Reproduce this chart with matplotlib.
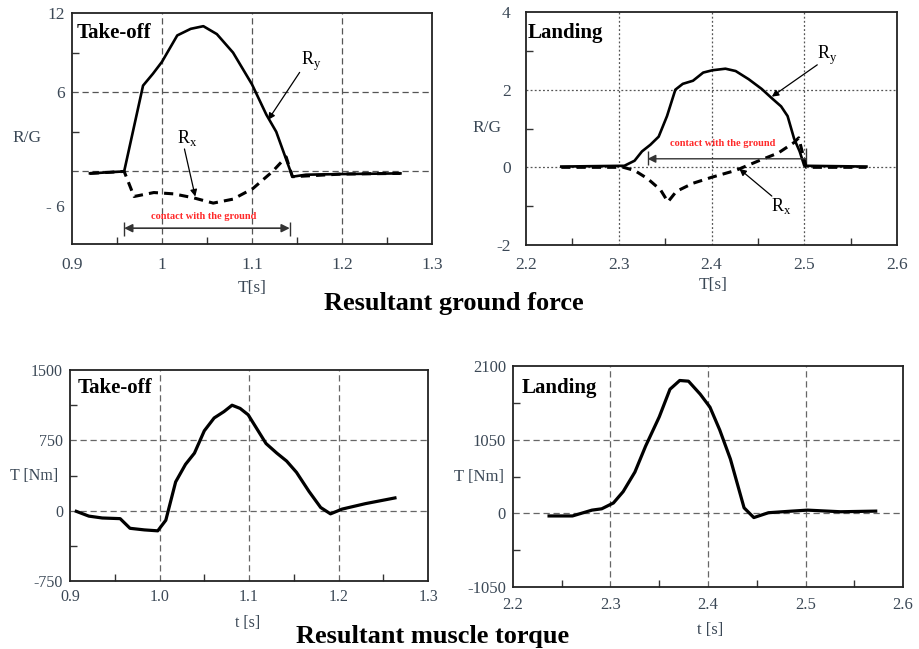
import matplotlib
matplotlib.use("Agg")
import matplotlib.pyplot as plt

plt.rcParams["font.family"] = ["Liberation Serif", "DejaVu Serif"]

# ---- data ------------------------------------------------------------------
# ground reaction force, take-off
t_force_to = [0.92, 0.958, 0.979, 0.99, 1.0, 1.017, 1.032, 1.046, 1.061, 1.079,
              1.1, 1.116, 1.127, 1.145, 1.16, 1.2, 1.265]
ry_to = [-0.15, 0.0, 6.5, 7.4, 8.3, 10.3, 10.8, 11.0, 10.4, 9.0,
         6.6, 4.3, 3.0, -0.4, -0.25, -0.2, -0.15]
t_rx_to = [0.92, 0.958, 0.969, 0.991, 1.013, 1.035, 1.057, 1.079, 1.101, 1.123,
           1.138, 1.145, 1.2, 1.265]
rx_to = [-0.15, 0.0, -1.9, -1.6, -1.7, -2.0, -2.4, -2.1, -1.3, 0.0,
         1.1, -0.4, -0.2, -0.15]

# ground reaction force, landing
t_force_ld = [2.238, 2.306, 2.317, 2.325, 2.334, 2.343, 2.352, 2.361, 2.369, 2.38,
              2.391, 2.401, 2.415, 2.426, 2.44, 2.454, 2.465, 2.475, 2.482, 2.489,
              2.495, 2.5, 2.567]
ry_ld = [0.02, 0.04, 0.17, 0.41, 0.58, 0.79, 1.32, 2.0, 2.15, 2.23,
         2.44, 2.5, 2.54, 2.48, 2.27, 2.02, 1.78, 1.57, 1.32, 0.74,
         0.41, 0.04, 0.02]
t_rx_ld = [2.238, 2.305, 2.317, 2.331, 2.345, 2.353, 2.362, 2.38, 2.401, 2.426,
           2.451, 2.472, 2.489, 2.494, 2.502, 2.567]
rx_ld = [0.0, 0.0, -0.08, -0.29, -0.58, -0.89, -0.62, -0.41, -0.25, -0.08,
         0.17, 0.37, 0.64, 0.76, 0.0, 0.0]

# muscle torque, take-off
t_tq_to = [0.907, 0.921, 0.936, 0.956, 0.967, 0.983, 0.998, 1.007, 1.018, 1.029,
           1.039, 1.05, 1.061, 1.072, 1.081, 1.09, 1.099, 1.119, 1.131, 1.142,
           1.153, 1.167, 1.18, 1.191, 1.204, 1.23, 1.263]
tq_to = [-7, -58, -78, -85, -188, -205, -215, -102, 307, 494,
         614, 852, 989, 1057, 1125, 1091, 1023, 716, 614, 529,
         409, 205, 34, -34, 17, 75, 136]

# muscle torque, landing
t_tq_ld = [2.237, 2.261, 2.281, 2.291, 2.303, 2.313, 2.325, 2.336, 2.35, 2.361,
           2.371, 2.38, 2.392, 2.402, 2.412, 2.423, 2.437, 2.447, 2.462, 2.486,
           2.502, 2.536, 2.572]
tq_ld = [-37, -37, 46, 65, 148, 310, 588, 958, 1375, 1769,
         1894, 1884, 1699, 1514, 1190, 773, 79, -60, 9, 32,
         46, 23, 32]

x_ticks_to = [0.9, 1.0, 1.1, 1.2, 1.3]
x_ticks_ld = [2.2, 2.3, 2.4, 2.5, 2.6]

LABEL_C = "#3b4856"
RED = "#ff2a2a"


def style_axes(ax, xlim, ylim, xt, xl, xminor, yt, yl, yminor, lsize, xpad, ypad):
    ax.set_xlim(*xlim)
    ax.set_ylim(*ylim)
    ax.set_xticks(xt, xl)
    ax.set_yticks(yt, yl)
    ax.set_xticks(xminor, minor=True)
    ax.set_yticks(yminor, minor=True)
    ax.tick_params(which="major", length=0, labelsize=lsize, labelcolor=LABEL_C)
    ax.tick_params(axis="x", which="major", pad=xpad)
    ax.tick_params(axis="y", which="major", pad=ypad)
    ax.tick_params(which="minor", direction="in", length=5, width=1,
                   color="#333333")
    for s in ax.spines.values():
        s.set_color("#222222")
        s.set_linewidth(1.3)


def grid(ax, xs, ys, dashes, color="#555555", lw=0.9):
    for x in xs:
        ax.axvline(x, color=color, lw=lw, dashes=dashes, zorder=1)
    for y in ys:
        ax.axhline(y, color=color, lw=lw, dashes=dashes, zorder=1)


fig = plt.figure(figsize=(9.19, 6.49), dpi=100)
ax1 = fig.add_axes([0.0783, 0.624, 0.3917, 0.356])
ax2 = fig.add_axes([0.5724, 0.6225, 0.4037, 0.359])
ax3 = fig.add_axes([0.0762, 0.1048, 0.3896, 0.325])
ax4 = fig.add_axes([0.5582, 0.0955, 0.4244, 0.3405])

# --- top left: take-off force ---
style_axes(ax1, (0.9, 1.3), (-5.5, 12), x_ticks_to, ["0.9", "1", "1.1", "1.2", "1.3"],
           [0.95, 1.05, 1.15, 1.25], [12, 6, -2.65], ["12", "6", "- 6"],
           [9, 3, -2.65], 12.5, 9, 5)
grid(ax1, [1.0, 1.1, 1.2], [6, 0], (5, 3))
ax1.plot(t_force_to, ry_to, color="k", lw=1.9, zorder=3)
ax1.plot(t_rx_to, rx_to, color="k", lw=2.2, dashes=(3, 2), zorder=3)
ax1.annotate("", xy=(1.142, -4.3), xytext=(0.958, -4.3),
             arrowprops=dict(arrowstyle="<|-|>", color="#333333", lw=1.2,
                             mutation_scale=12, shrinkA=0, shrinkB=0))
ax1.vlines([0.958, 1.142], -4.9, -3.8, color="#333333", lw=1)
ax1.text(1.046, -3.45, "contact with the ground", color=RED, fontsize=7.5,
         fontweight="bold", ha="center", va="center")
ax1.text(1.166, 8.3, r"R$_\mathregular{y}$", fontsize=13, ha="center", va="center")
ax1.annotate("", xy=(1.118, 3.9), xytext=(1.153, 7.5),
             arrowprops=dict(arrowstyle="-|>", color="k", lw=0.9,
                             mutation_scale=10, shrinkA=0, shrinkB=0))
ax1.text(1.028, 2.5, r"R$_\mathregular{x}$", fontsize=13, ha="center", va="center")
ax1.annotate("", xy=(1.037, -1.9), xytext=(1.025, 1.7),
             arrowprops=dict(arrowstyle="-|>", color="k", lw=0.9,
                             mutation_scale=10, shrinkA=0, shrinkB=0))
ax1.text(0.014, 0.913, "Take-off", transform=ax1.transAxes, fontsize=15,
         fontweight="bold", va="center")
ax1.text(-0.124, 0.459, "R/G", transform=ax1.transAxes, fontsize=12.5,
         color=LABEL_C, ha="center", va="center")
ax1.text(0.5, -0.19, "T[s]", transform=ax1.transAxes, fontsize=12.5,
         color=LABEL_C, ha="center", va="center")

# --- top right: landing force ---
style_axes(ax2, (2.2, 2.6), (-2, 4), x_ticks_ld, ["2.2", "2.3", "2.4", "2.5", "2.6"],
           [2.25, 2.35, 2.45, 2.55], [4, 2, 0, -2], ["4", "2", "0", "-2"],
           [3, 1, -1], 12.5, 9, 11)
grid(ax2, [2.3, 2.4, 2.5], [2, 0], (1.5, 1.8))
ax2.plot(t_force_ld, ry_ld, color="k", lw=1.9, zorder=3)
ax2.plot(t_rx_ld, rx_ld, color="k", lw=2.2, dashes=(3, 2), zorder=3)
ax2.annotate("", xy=(2.331, 0.22), xytext=(2.502, 0.22),
             arrowprops=dict(arrowstyle="-|>", color="#333333", lw=1.0,
                             mutation_scale=12, shrinkA=0, shrinkB=0))
ax2.vlines(2.331, 0.05, 0.42, color="#333333", lw=1)
ax2.vlines(2.502, 0.05, 0.5, color="#333333", lw=1)
ax2.text(2.412, 0.62, "contact with the ground", color=RED, fontsize=7.5,
         fontweight="bold", ha="center", va="center")
ax2.text(2.525, 2.89, r"R$_\mathregular{y}$", fontsize=13, ha="center", va="center")
ax2.annotate("", xy=(2.465, 1.82), xytext=(2.514, 2.64),
             arrowprops=dict(arrowstyle="-|>", color="k", lw=0.9,
                             mutation_scale=10, shrinkA=0, shrinkB=0))
ax2.text(2.475, -0.99, r"R$_\mathregular{x}$", fontsize=13, ha="center", va="center")
ax2.annotate("", xy=(2.43, -0.04), xytext=(2.465, -0.74),
             arrowprops=dict(arrowstyle="-|>", color="k", lw=0.9,
                             mutation_scale=10, shrinkA=0, shrinkB=0))
ax2.text(0.005, 0.91, "Landing", transform=ax2.transAxes, fontsize=15,
         fontweight="bold", va="center")
ax2.text(-0.105, 0.502, "R/G", transform=ax2.transAxes, fontsize=12.5,
         color=LABEL_C, ha="center", va="center")
ax2.text(0.504, -0.17, "T[s]", transform=ax2.transAxes, fontsize=12.5,
         color=LABEL_C, ha="center", va="center")

# --- bottom left: take-off torque ---
style_axes(ax3, (0.9, 1.3), (-750, 1500), x_ticks_to, ["0.9", "1.0", "1.1", "1.2", "1.3"],
           [0.95, 1.05, 1.15, 1.25], [1500, 750, 0, -750],
           ["1500", "750", "0", "-750"], [1125, 375, -375], 11.5, 6, 5)
grid(ax3, [1.0, 1.1, 1.2], [750, 0], (5, 3), color="#666666")
ax3.plot(t_tq_to, tq_to, color="k", lw=2.3, zorder=3)
ax3.text(0.02, 0.915, "Take-off", transform=ax3.transAxes, fontsize=15,
         fontweight="bold", va="center")
ax3.text(-0.10, 0.498, "T [Nm]", transform=ax3.transAxes, fontsize=11.5,
         color=LABEL_C, ha="center", va="center")
ax3.text(0.497, -0.199, "t [s]", transform=ax3.transAxes, fontsize=11.5,
         color=LABEL_C, ha="center", va="center")

# --- bottom right: landing torque ---
style_axes(ax4, (2.2, 2.6), (-1050, 2100), x_ticks_ld, ["2.2", "2.3", "2.4", "2.5", "2.6"],
           [2.25, 2.35, 2.45, 2.55], [2100, 1050, 0, -1050],
           ["2100", "1050", "0", "-1050"], [1575, 525, -525], 12, 7, 5)
grid(ax4, [2.3, 2.4, 2.5], [1050, 0], (5, 3), color="#666666")
ax4.plot(t_tq_ld, tq_ld, color="k", lw=2.3, zorder=3)
ax4.text(0.023, 0.90, "Landing", transform=ax4.transAxes, fontsize=15,
         fontweight="bold", va="center")
ax4.text(-0.087, 0.498, "T [Nm]", transform=ax4.transAxes, fontsize=12,
         color=LABEL_C, ha="center", va="center")
ax4.text(0.505, -0.195, "t [s]", transform=ax4.transAxes, fontsize=12,
         color=LABEL_C, ha="center", va="center")

fig.text(0.494, 0.5223, "Resultant ground force", fontsize=19, fontweight="bold",
         ha="center", va="baseline")
fig.text(0.4706, 0.0092, "Resultant muscle torque", fontsize=19, fontweight="bold",
         ha="center", va="baseline")

fig.savefig("out.png", dpi=100)
